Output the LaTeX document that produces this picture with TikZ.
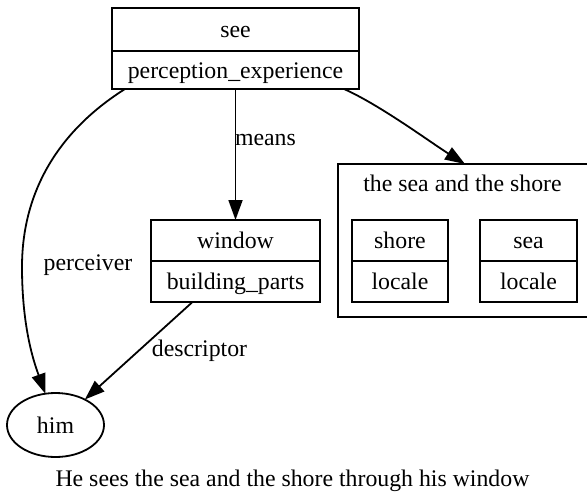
\documentclass[tikz,border=0pt]{standalone}
\usepackage{fontspec}
\setmainfont{Liberation Serif}
\usetikzlibrary{arrows.meta,shapes.geometric}

\begin{document}
\begin{tikzpicture}[x=1pt,y=-1pt, line width=1.8pt,
        every node/.style={font=\fontsize{23.8}{28}\selectfont, inner sep=0pt, outer sep=0pt,
            text height=21pt, text depth=5pt},
        part/.style={draw, minimum height=41pt},
        rel/.style={-{Triangle[length=20pt,width=14pt]}}]
        \useasboundingbox (0,0) rectangle (587,491);
        \clip (0,0) rectangle (587,491);

        % records: frame on top, role below
        \node[part, minimum width=247pt, minimum height=43pt] (see) at (235.5,29.5) {see};
        \node[part, minimum width=247pt, minimum height=38pt] (seerole) at (235.5,70) {perception\_experience};
        \node[part, minimum width=169pt] (window) at (235.5,240.5) {window};
        \node[part, minimum width=169pt] (windowrole) at (235.5,281.5) {building\_parts};

        \node[draw, minimum width=254pt, minimum height=153pt] (scene) at (465,240.5) {};
        \node (scenelabel) at (462.5,183) {the sea and the shore};
        \foreach \name/\x/\w in {shore/400/96, sea/528.5/97} {
            \node[part, minimum width=\w pt] (\name) at (\x,240.5) {\name};
            \node[part, minimum width=\w pt] (\name role) at (\x,281.5) {locale};
        }

        \node[draw, ellipse, minimum width=97pt, minimum height=64pt] (him) at (55.5,425) {him};

        \draw[rel] (seerole.south) -- (window.north);
        \draw[rel] ([xshift=-15pt]seerole.south east) .. controls (380,105) and (430,142) .. (scene.north);
        \draw[rel] ([xshift=13pt]seerole.south west) .. controls (60,130) and (22,190) .. (22,267)
            .. controls (22,330) and (35,365) .. (him.108);
        \draw[rel] ([xshift=-43pt]windowrole.south) -- (him.41);

        \node[anchor=west] (meanslabel) at (235,137) {means};
        \node (perceiverlabel) at (88,262) {perceiver};
        \node (descriptorlabel) at (199.5,348) {descriptor};

        \node (caption) at (292.5,478) {He sees the sea and the shore through his window};
    \end{tikzpicture}
\end{document}
